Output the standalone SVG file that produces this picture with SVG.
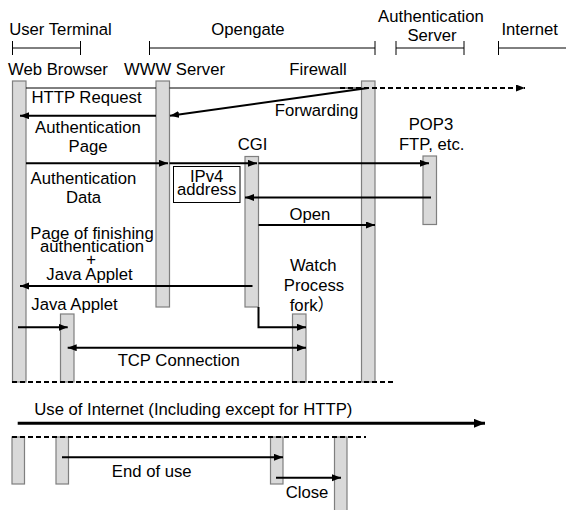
<svg xmlns="http://www.w3.org/2000/svg" width="566" height="510" viewBox="0 0 566 510">
  <style>
    text { font-family: "Liberation Sans", Arial, "Noto Sans CJK JP", sans-serif; font-size: 16.7px; fill: #000; text-anchor: middle; }
    .bar { fill: #d9d9d9; stroke: #7f7f7f; stroke-width: 1.2; }
    .brk { stroke: #000; stroke-width: 1; fill: none; }
    .msg { stroke: #000; stroke-width: 2; fill: none; }
    .thin { stroke: #000; stroke-width: 1; fill: none; }
    .dash { stroke: #000; stroke-width: 2; fill: none; stroke-dasharray: 5 3; }
    .box { fill: #fff; stroke: #000; stroke-width: 1; }
  </style>
  <defs>
    <marker id="ah" markerUnits="userSpaceOnUse" markerWidth="10" markerHeight="8" refX="9" refY="3.5" orient="auto-start-reverse">
      <path d="M0,0 L9,3.5 L0,7 Z" fill="#000"/>
    </marker>
    <marker id="ahBig" markerUnits="userSpaceOnUse" markerWidth="12" markerHeight="10" refX="11" refY="4.5" orient="auto">
      <path d="M0,0 L11,4.5 L0,9 Z" fill="#000"/>
    </marker>
  </defs>
  <rect width="566" height="510" fill="#fff"/>

  <!-- domain headers with range brackets -->
  <g id="hdr-user-terminal">
    <text x="60.5" y="34.5">User Terminal</text>
    <path class="brk" d="M12.5,48 H80.5 M12.5,41 V55 M80.5,41 V55"/>
  </g>
  <g id="hdr-opengate">
    <text x="248" y="34.5">Opengate</text>
    <path class="brk" d="M149.5,48 H375 M149.5,41 V55 M375,41 V55"/>
  </g>
  <g id="hdr-auth-server">
    <text x="431" y="21.5">Authentication</text>
    <text x="432" y="40.5">Server</text>
    <path class="brk" d="M396,48 H464 M396,41 V55 M464,41 V55"/>
  </g>
  <g id="hdr-internet">
    <text x="529.7" y="34.5">Internet</text>
    <path class="brk" d="M498.5,48 H566 M498.5,41 V55"/>
  </g>

  <!-- lifelines -->
  <g id="web-browser">
    <text x="58" y="75">Web Browser</text>
    <rect class="bar" x="12.5" y="81" width="13.5" height="301"/>
    <rect class="bar" x="12" y="437" width="12.5" height="47"/>
  </g>
  <g id="www-server">
    <text x="174.5" y="75">WWW Server</text>
    <rect class="bar" x="156" y="81" width="13.5" height="226"/>
  </g>
  <g id="firewall">
    <text x="318" y="75">Firewall</text>
    <rect class="bar" x="361.5" y="81" width="13.5" height="301"/>
    <rect class="bar" x="334.5" y="437" width="12.5" height="80"/>
  </g>
  <g id="cgi">
    <text x="252.5" y="150">CGI</text>
    <rect class="bar" x="245" y="156.5" width="13.5" height="150.5"/>
  </g>
  <g id="auth-server">
    <text x="431" y="130">POP3</text>
    <text x="431.7" y="150">FTP, etc.</text>
    <rect class="bar" x="423" y="156" width="13.5" height="68.5"/>
  </g>
  <g id="java-applet">
    <rect class="bar" x="60.5" y="314" width="13.5" height="68"/>
    <rect class="bar" x="56" y="437" width="12.5" height="47"/>
  </g>
  <g id="watch-process">
    <text x="313.3" y="270.7">Watch</text>
    <text x="314" y="291">Process</text>
    <text x="312" y="310.7">fork）</text>
    <rect class="bar" x="292.5" y="314" width="13.5" height="68"/>
    <rect class="bar" x="270.5" y="437" width="12.5" height="47"/>
  </g>
  <g id="ipv4-address">
    <rect class="box" x="173.5" y="166.5" width="66.5" height="36"/>
    <text x="206.7" y="181.5">IPv4</text>
    <text x="206.7" y="195">address</text>
  </g>

  <!-- messages -->
  <g id="connectors">
    <line class="thin" x1="26" y1="88" x2="156" y2="88"/>
    <line class="thin" x1="169.5" y1="88" x2="361.5" y2="88"/>
    <line class="dash" x1="340" y1="88" x2="525" y2="88" marker-end="url(#ah)"/>
    <line class="msg" x1="368" y1="88" x2="170" y2="115.7" marker-end="url(#ah)"/>
    <line class="msg" x1="156" y1="115.7" x2="20" y2="115.7" marker-end="url(#ah)"/>
    <line class="msg" x1="26" y1="163.3" x2="168" y2="163.3" marker-end="url(#ah)"/>
    <line class="msg" x1="169.5" y1="163.3" x2="257" y2="163.3" marker-end="url(#ah)"/>
    <line class="msg" x1="258.5" y1="163.3" x2="429" y2="163.3" marker-end="url(#ah)"/>
    <line class="msg" x1="431" y1="197.5" x2="245" y2="197.5" marker-end="url(#ah)"/>
    <line class="msg" x1="258.5" y1="225" x2="375" y2="225" marker-end="url(#ah)"/>
    <line class="msg" x1="252.5" y1="286" x2="20" y2="286" marker-end="url(#ah)"/>
    <path class="msg" d="M258.5,307 V327.3 H306" marker-end="url(#ah)"/>
    <line class="msg" x1="18" y1="327.3" x2="67.7" y2="327.3" marker-end="url(#ah)"/>
    <line class="msg" x1="67.7" y1="347.7" x2="306" y2="347.7" marker-start="url(#ah)" marker-end="url(#ah)"/>
    <line class="dash" x1="12" y1="382" x2="396" y2="382"/>
    <line stroke="#000" stroke-width="3" x1="17.7" y1="423.3" x2="485" y2="423.3" marker-end="url(#ahBig)"/>
    <line class="dash" x1="12" y1="437" x2="366" y2="437"/>
    <line class="msg" x1="62" y1="457.3" x2="283" y2="457.3" marker-end="url(#ah)"/>
    <line class="msg" x1="276" y1="477.7" x2="341" y2="477.7" marker-end="url(#ah)"/>
  </g>

  <!-- message labels -->
  <g id="labels">
    <text x="86.5" y="103">HTTP Request</text>
    <text x="316.5" y="116">Forwarding</text>
    <text x="88" y="133">Authentication</text>
    <text x="88" y="152">Page</text>
    <text x="83.5" y="184">Authentication</text>
    <text x="83.5" y="203.3">Data</text>
    <text x="310" y="219.5">Open</text>
    <text x="92" y="239">Page of finishing</text>
    <text x="92" y="251.7">authentication</text>
    <text x="91" y="265">+</text>
    <text x="89.5" y="280">Java Applet</text>
    <text x="74.5" y="310">Java Applet</text>
    <text x="178.7" y="366">TCP Connection</text>
    <text x="193.3" y="415">Use of Internet (Including except for HTTP)</text>
    <text x="151.7" y="477">End of use</text>
    <text x="307" y="498">Close</text>
  </g>
</svg>
